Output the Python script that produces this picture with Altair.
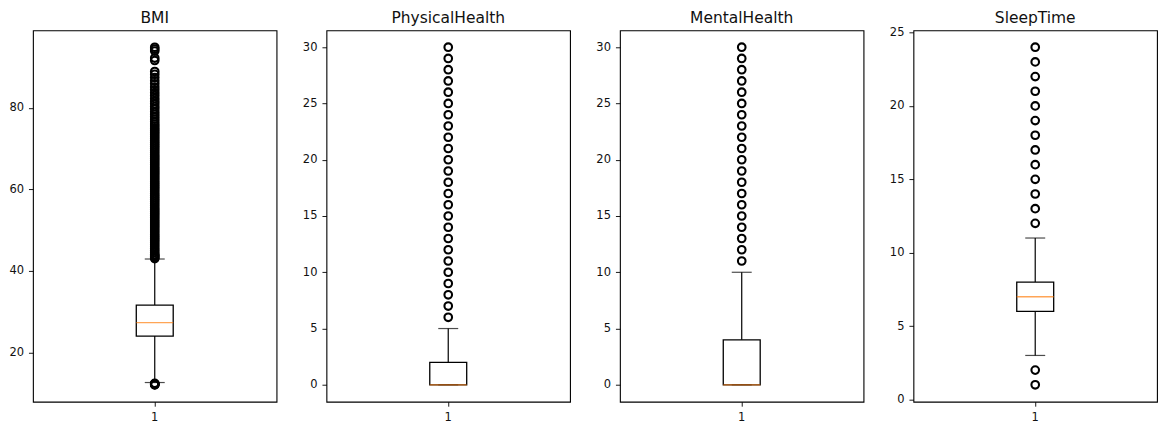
import altair as alt
import pandas as pd

variables = ["BMI", "PhysicalHealth", "MentalHealth", "SleepTime"]
q1 = [24.0, 0, 0, 6]
median = [27.3, 0, 0, 7]
q3 = [31.6, 2, 4, 8]
whisker_low = [12.6, 0, 0, 3]
whisker_high = [42.9, 5, 10, 11]

bmi_outliers = [
    12.02, 12.08, 12.16, 12.21, 12.3, 12.4,
    43.0, 43.2, 43.5, 43.8, 44.0, 44.5, 45.0, 45.5, 46.0, 46.5, 47.0, 47.5,
    48.0, 48.5, 49.0, 49.5, 50.0, 50.5, 51.0, 51.5, 52.0, 52.5, 53.0, 53.5,
    54.0, 54.5, 55.0, 55.5, 56.0, 56.5, 57.0, 57.5, 58.0, 58.5, 59.0, 59.5,
    60.0, 60.5, 61.0, 61.5, 62.0, 62.5, 63.0, 63.5, 64.0, 64.5, 65.0, 65.5,
    66.0, 66.5, 67.0, 67.5, 68.0, 68.5, 69.0, 69.5, 70.0, 70.5, 71.0, 71.5,
    72.0, 72.5, 73.0, 73.5, 74.0, 74.5, 75.0, 75.5, 76.0, 76.6, 77.2, 77.8,
    78.4, 79.0, 79.7, 80.3, 81.0, 81.6, 82.3, 83.0, 83.7, 84.4, 85.1, 85.9,
    86.6, 87.4, 88.2, 88.9, 91.6, 92.2, 93.9, 94.4, 94.85,
]
physical_outliers = [6, 7, 8, 9, 10, 11, 12, 13, 14, 15, 16, 17, 18, 19, 20,
                     21, 22, 23, 24, 25, 26, 27, 28, 29, 30]
mental_outliers = [11, 12, 13, 14, 15, 16, 17, 18, 19, 20, 21, 22, 23, 24, 25,
                   26, 27, 28, 29, 30]
sleep_outliers = [1, 2, 12, 13, 14, 15, 16, 17, 18, 19, 20, 21, 22, 23, 24]
all_outliers = [bmi_outliers, physical_outliers, mental_outliers, sleep_outliers]

y_domains = [[7.9, 99.0], [-1.5, 31.5], [-1.5, 31.5], [-0.15, 25.15]]
y_ticks = [[20, 40, 60, 80], [0, 5, 10, 15, 20, 25, 30],
           [0, 5, 10, 15, 20, 25, 30], [0, 5, 10, 15, 20, 25]]
title_offsets = [4, 4, 4, 0]
x_label = "1"


def panel(i):
    stats = pd.DataFrame({
        "cat": [x_label], "q1": [q1[i]], "med": [median[i]], "q3": [q3[i]],
        "lo": [whisker_low[i]], "hi": [whisker_high[i]],
    })
    outs = pd.DataFrame({"cat": [x_label] * len(all_outliers[i]), "v": all_outliers[i]})
    x = alt.X("cat:N", title=None,
              axis=alt.Axis(labelAngle=0, domain=False, grid=False))
    yscale = alt.Scale(domain=y_domains[i], nice=False, zero=False)
    yaxis = alt.Axis(values=y_ticks[i], title=None, grid=False, domain=False)
    base = alt.Chart(stats)
    whisk = base.mark_rule(color="black", strokeWidth=1.2).encode(
        x=x, y=alt.Y("lo:Q", scale=yscale, axis=yaxis), y2="hi:Q")
    box = base.mark_bar(size=37, fill="white", stroke="black", strokeWidth=1.3).encode(
        x=x, y=alt.Y("q1:Q", scale=yscale, axis=yaxis), y2="q3:Q")
    cap_lo = base.mark_tick(size=20, orient="horizontal", thickness=1.2, color="black").encode(
        x=x, y=alt.Y("lo:Q", scale=yscale, axis=yaxis))
    cap_hi = base.mark_tick(size=20, orient="horizontal", thickness=1.2, color="black").encode(
        x=x, y=alt.Y("hi:Q", scale=yscale, axis=yaxis))
    med = base.mark_tick(size=37, orient="horizontal", thickness=1.3, color="#ff7f0e").encode(
        x=x, y=alt.Y("med:Q", scale=yscale, axis=yaxis))
    pts = alt.Chart(outs).mark_point(shape="circle", filled=False, color="black",
                                     size=58, strokeWidth=2.1, opacity=1).encode(
        x=x, y=alt.Y("v:Q", scale=yscale, axis=yaxis))
    return alt.layer(whisk, box, cap_lo, cap_hi, med, pts).properties(
        width=244, height=372,
        title=alt.TitleParams(variables[i], offset=title_offsets[i]))


chart = alt.hconcat(*[panel(i) for i in range(4)], spacing=24).properties(
    padding={"left": 0, "top": 1, "right": 5, "bottom": 5}
).configure_view(
    stroke="black", strokeWidth=1.1
).configure_axis(
    labelFont="DejaVu Sans", labelFontSize=11.5, labelColor="#111",
    tickColor="black", tickSize=4.5, tickWidth=0.9, labelPadding=5,
).configure_title(
    font="DejaVu Sans", fontSize=15.5, fontWeight="normal", color="#111",
).configure_scale(
    bandPaddingInner=0.1
)

chart.save("out.html", embed_options={"renderer": "svg", "actions": False})
